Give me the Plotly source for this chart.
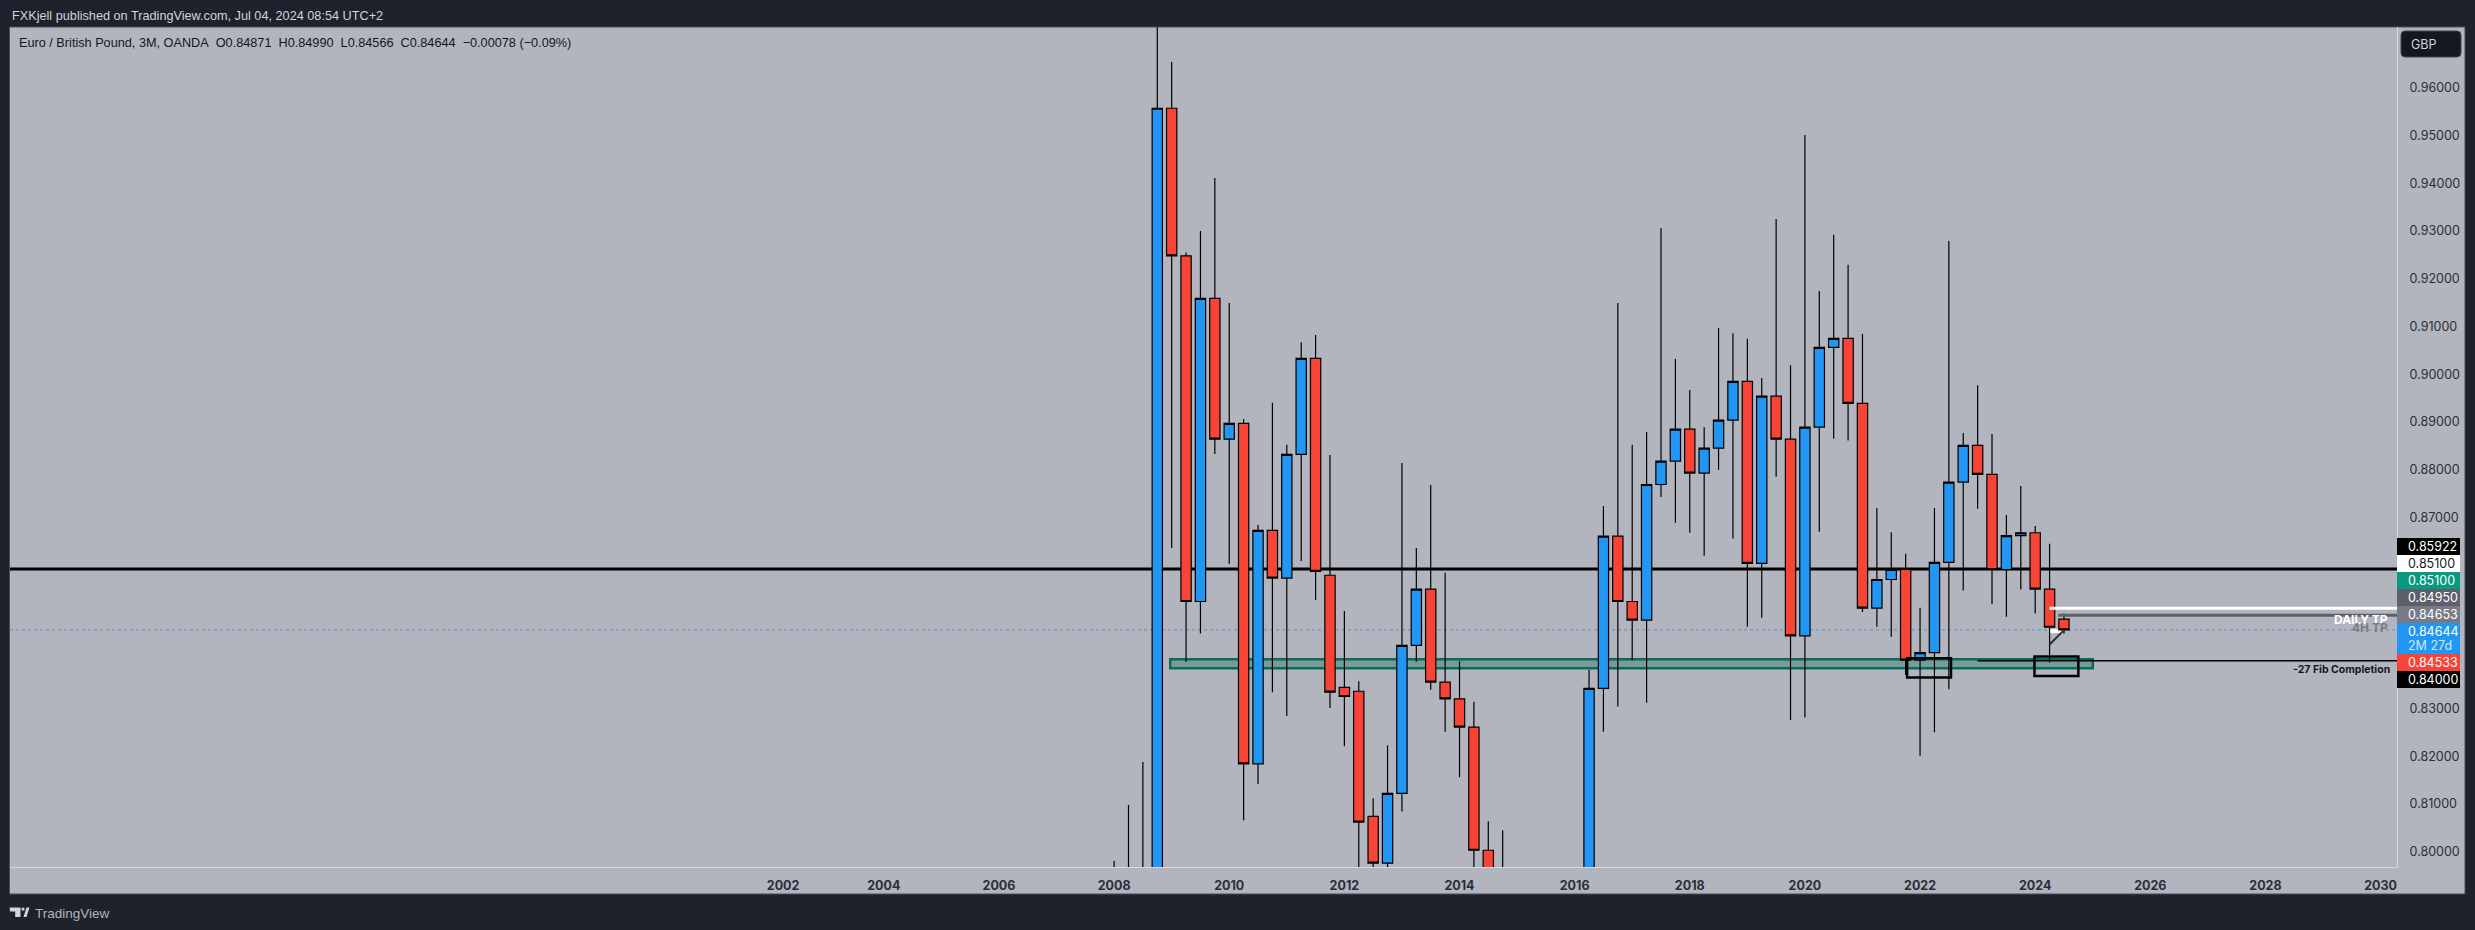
import plotly.graph_objects as go

# 3M candles, first is 2008 Q1, last is 2024 Q3
opens = [0.7340,0.7960,0.7905,0.7880,
 0.9557,0.9248,0.8524,0.9159,
 0.8864,0.8897,0.8184,0.8673,
 0.8573,0.8832,0.9033,0.8579,
 0.8344,0.8336,0.8074,0.7976,
 0.8122,0.8432,0.8550,0.8355,
 0.8320,0.8261,0.8003,0.7805,
 0.7765,0.7250,0.7100,0.7370,
 0.7360,0.7885,0.8342,0.8661,
 0.8524,0.8485,0.8769,0.8818,
 0.8885,0.8793,0.8845,0.8904,
 0.8985,0.8604,0.8954,0.8864,
 0.8452,0.8889,0.9056,0.9075,
 0.8939,0.8510,0.8570,0.8591,
 0.8401,0.8417,0.8606,0.8774,
 0.8851,0.8790,0.8591,0.8662,
 0.8668,0.8550,0.84871]
highs = [0.7981,0.8098,0.8188,0.9803,
 0.9654,0.9255,0.9300,0.9411,
 0.9149,0.8906,0.8684,0.8940,
 0.8852,0.9067,0.9082,0.8831,
 0.8504,0.8357,0.8112,0.8223,
 0.8814,0.8636,0.8768,0.8584,
 0.8399,0.8314,0.8064,0.8045,
 0.7800,0.7450,0.7490,0.7400,
 0.7900,0.8381,0.8724,0.9149,
 0.8852,0.8879,0.9306,0.9032,
 0.8967,0.8889,0.9097,0.9086,
 0.9074,0.8992,0.9325,0.9019,
 0.9501,0.9174,0.9292,0.9229,
 0.9084,0.8720,0.8669,0.8624,
 0.8511,0.8720,0.9279,0.8877,
 0.8977,0.8875,0.8705,0.8766,
 0.8682,0.8645,0.84990]
lows = [0.7300,0.7700,0.7700,0.7800,
 0.8636,0.8398,0.8457,0.8833,
 0.8603,0.8066,0.8142,0.8334,
 0.8284,0.8609,0.8527,0.8301,
 0.8221,0.7950,0.7755,0.7850,
 0.8084,0.8398,0.8339,0.8251,
 0.8156,0.7950,0.7767,0.7700,
 0.7100,0.6950,0.7000,0.7200,
 0.7300,0.7650,0.8251,0.8304,
 0.8401,0.8312,0.8743,0.8689,
 0.8668,0.8620,0.8800,0.8656,
 0.8471,0.8490,0.8785,0.8276,
 0.8281,0.8670,0.8865,0.8861,
 0.8502,0.8471,0.8450,0.8370,
 0.8201,0.8250,0.8340,0.8547,
 0.8718,0.8518,0.8492,0.8549,
 0.8499,0.8396,0.84566]
closes = [0.7960,0.7905,0.7880,0.9557,
 0.9248,0.8524,0.9159,0.8864,
 0.8897,0.8184,0.8673,0.8573,
 0.8832,0.9033,0.8587,0.8334,
 0.8325,0.8062,0.7976,0.8122,
 0.8432,0.8550,0.8355,0.8320,
 0.8261,0.8003,0.7805,0.7765,
 0.7250,0.7100,0.7370,0.7360,
 0.7885,0.8342,0.8661,0.8524,
 0.8485,0.8769,0.8818,0.8885,
 0.8793,0.8845,0.8904,0.8985,
 0.8604,0.8954,0.8864,0.8452,
 0.8889,0.9056,0.9075,0.8939,
 0.8510,0.8570,0.8591,0.8401,
 0.8417,0.8606,0.8774,0.8851,
 0.8790,0.8591,0.8662,0.8668,
 0.8550,0.8470,0.84644]

year_labels = ["2002","2004","2006","2008","2010","2012","2014","2016","2018","2020","2022","2024","2026","2028","2030"]
year_bars = [-23,-16,-8,0,8,16,24,32,40,48,56,64,72,80,88]

price_ticks = [0.80,0.81,0.82,0.83,0.84,0.85,0.86,0.87,0.88,0.89,0.90,0.91,0.92,0.93,0.94,0.95,0.96]

level_fib = 0.84000
level_major = 0.85922
level_daily = 0.85100
level_4h = 0.84950
level_last = 0.84644
zone_top = 0.8403
zone_bottom = 0.8384

tag_texts = ["0.85922","0.85100","0.85100","0.84950","0.84653","0.84644","0.84533","0.84000"]

# ---------- page geometry
W, H = 2475, 930
L, R, T, B = 10, 2397, 27, 867
PP = 14.392          # px per bar
BAR0 = 1114.1        # px of bar 0
PY = 4775.0          # px per unit of price
Y096 = 87.7

def px(x): return (x - L) / (R - L)
def py(y): return 1 - (y - T) / (B - T)

xrange_ = [(L - BAR0) / PP, (R - BAR0) / PP]
yrange_ = [0.96 - (B - Y096) / PY, 0.96 + (Y096 - T) / PY]

fig = go.Figure()
bars = list(range(len(opens)))
fig.add_trace(go.Candlestick(
    x=bars, open=opens, high=highs, low=lows, close=closes,
    increasing=dict(fillcolor="#2196f3", line=dict(color="#000000", width=1.2)),
    decreasing=dict(fillcolor="#f74437", line=dict(color="#000000", width=1.2)),
    whiskerwidth=0, hoverinfo="skip", showlegend=False,
))

shapes = []
def prect(x0, y0, x1, y1, fill, line=None, lw=0, layer="above"):
    shapes.append(dict(type="rect", xref="paper", yref="paper", x0=px(x0), x1=px(x1), y0=py(y0), y1=py(y1),
                       fillcolor=fill, line=dict(color=line or fill, width=lw), layer=layer))

# pane background
prect(9.5, 27, 2465, 894, "#b2b5be", "#4a4d58", 1, "below")

# drawings in chart coordinates
bar_left, bar_right = xrange_
def hline(x0, x1, y, color, w, dash="solid", layer="below"):
    shapes.append(dict(type="line", xref="x", yref="y", x0=x0, x1=x1, y0=y, y1=y,
                       line=dict(color=color, width=w, dash=dash), layer=layer))

hline(bar_left, bar_right, level_major, "#000000", 3)
hline(bar_left, bar_right, level_last, "#4a90d9", 1, "dot")
shapes.append(dict(type="rect", xref="x", yref="y", x0=3.9, x1=68.0, y0=zone_bottom, y1=zone_top,
                   fillcolor="rgba(8,105,85,0.35)", line=dict(color="#0a6b5a", width=2.5), layer="below"))
hline(65.0, bar_right, level_daily, "#ffffff", 3, layer="above")
hline(65.6, bar_right, level_4h, "#5d606b", 3, layer="above")
hline(60.0, bar_right, level_fib, "#000000", 1.5, layer="above")
hline(65.0, 65.95, 0.84620, "#ffffff", 4, layer="below")
shapes.append(dict(type="line", xref="x", yref="y", x0=65.0, x1=66.0, y0=0.8434, y1=0.8464,
                   line=dict(color="#2a2e39", width=2), layer="above"))
for x0, x1, y0, y1 in [(55.1, 58.15, 0.8365, 0.8405), (63.95, 67.0, 0.8368, 0.8409)]:
    shapes.append(dict(type="rect", xref="x", yref="y", x0=x0, x1=x1, y0=y0, y1=y1,
                       fillcolor="rgba(0,0,0,0)", line=dict(color="#000000", width=2.5), layer="above"))

annotations = []
def label(x, y, text, size, color, anchor="left", bold=False, font="Inter"):
    t = f"<b>{text}</b>" if bold else text
    annotations.append(dict(xref="paper", yref="paper", x=px(x), y=py(y), text=t, showarrow=False,
                            xanchor=anchor, yanchor="middle", borderpad=0,
                            font=dict(family=font, size=size, color=color)))

# price tags stacked on the axis
tag_boxes = [(538, 555, "#000000", "#ffffff"), (555, 572, "#ffffff", "#131722"), (572, 589, "#089981", "#ffffff"),
             (589, 606, "#5d606b", "#ffffff"), (606, 623, "#787b86", "#ffffff"), (623, 654, "#2196f3", "#ffffff"),
             (654, 671, "#f74437", "#ffffff"), (671, 688, "#000000", "#ffffff")]
for (y0, y1, fill, col), txt in zip(tag_boxes, tag_texts):
    prect(2397, y0, 2460, y1, fill)
    yc = (y0 + y1) / 2 if y1 - y0 < 20 else y0 + 8.5
    label(2406.5, yc, txt, 12.5, col)
label(2406.5, 645.5, "2M 27d", 12.5, "#cfe6fb")

# text on the chart
label(2389, 619.5, "DAILY TP", 12, "#ffffff", "right", True)
label(2389, 627, "4H TP", 12, "#787b86", "right", True)
label(2391, 669.5, "-27 Fib Completion", 10.5, "#131722", "right", True)

# header / legend / footer
label(10.5, 15.5, "FXKjell published on TradingView.com, Jul 04, 2024 08:54 UTC+2", 12.7, "#d1d4dc", font="Liberation Sans")
label(18, 43, "Euro / British Pound, 3M, OANDA&nbsp;&nbsp;O0.84871&nbsp;&nbsp;H0.84990&nbsp;&nbsp;L0.84566&nbsp;&nbsp;C0.84644&nbsp;&nbsp;\u22120.00078 (\u22120.09%)",
      12.7, "#131722", font="Liberation Sans")
label(33.5, 913, "TradingView", 13.5, "#b2b5be", font="Liberation Sans")

# currency button
x0, x1, y0, y1, r = 2401, 2461, 31, 57, 4
path = (f"M{px(x0+r)},{py(y0)} L{px(x1-r)},{py(y0)} Q{px(x1)},{py(y0)} {px(x1)},{py(y0+r)} "
        f"L{px(x1)},{py(y1-r)} Q{px(x1)},{py(y1)} {px(x1-r)},{py(y1)} L{px(x0+r)},{py(y1)} "
        f"Q{px(x0)},{py(y1)} {px(x0)},{py(y1-r)} L{px(x0)},{py(y0+r)} Q{px(x0)},{py(y0)} {px(x0+r)},{py(y0)} Z")
shapes.append(dict(type="path", xref="paper", yref="paper", path=path, fillcolor="#131722",
                   line=dict(color="#434651", width=1), layer="above"))
label(2410, 44, "GBP", 12.5, "#d1d4dc")

# logo
def P(pts): return "M" + " L".join(f"{px(a)},{py(b)}" for a, b in pts) + " Z"
logo = P([(9.8, 907.5), (20.5, 907.5), (20.5, 917), (15.2, 917), (15.2, 911.5), (9.8, 911.5)]) + " " + \
       P([(23.5, 917), (26.5, 907.5), (29.5, 907.5), (26.5, 917)]) + " " + \
       P([(21.6, 907.7), (24.4, 907.7), (24.4, 910.5), (21.6, 910.5)])
shapes.append(dict(type="path", xref="paper", yref="paper", path=logo, fillcolor="#d1d4dc",
                   line=dict(width=0), layer="above"))

fig.update_layout(
    width=W, height=H, autosize=False,
    margin=dict(l=L, r=W - R, t=T, b=H - B, pad=0),
    paper_bgcolor="#1e222d", plot_bgcolor="#b2b5be",
    showlegend=False, hovermode=False, boxgap=0.285, boxgroupgap=0,
    shapes=shapes, annotations=annotations,
    xaxis=dict(range=xrange_, rangeslider=dict(visible=False), tickmode="array", tickvals=year_bars, ticktext=[f"<b>{t}</b>" for t in year_labels],
               showgrid=False, zeroline=False, showline=True, linecolor="#d6d8de", linewidth=1.2,
               ticks="outside", ticklen=7, tickcolor="rgba(0,0,0,0)", tickangle=0,
               tickfont=dict(family="Inter", size=12.5, color="#2a2e39")),
    yaxis=dict(range=yrange_, side="right", tickmode="array", tickvals=price_ticks, tickformat=".5f",
               showgrid=False, zeroline=False, showline=True, linecolor="#d6d8de", linewidth=1.2,
               ticks="outside", ticklen=9, tickcolor="rgba(0,0,0,0)",
               tickfont=dict(family="Inter", size=12.5, color="#2a2e39")),
)

fig.write_html("out.html", config=dict(displayModeBar=False),
               post_script="document.body.style.margin='0';document.body.style.overflow='hidden';")
